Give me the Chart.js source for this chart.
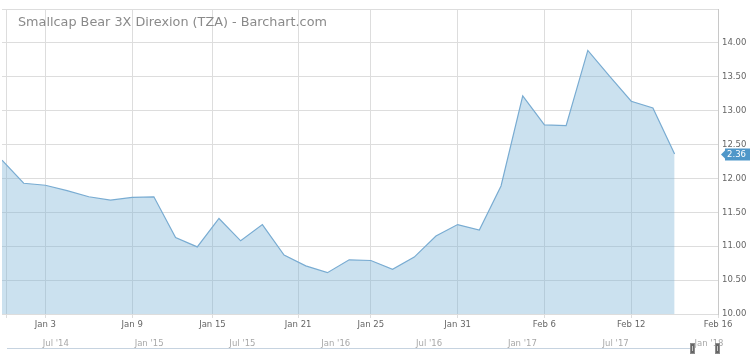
<!DOCTYPE html>
<html><head><meta charset="utf-8">
<script src="https://cdn.jsdelivr.net/npm/chart.js@4.4.1/dist/chart.umd.min.js"></script>
<style>html,body{margin:0;padding:0;background:#fff;overflow:hidden}</style>
</head><body>
<canvas id="c" width="750" height="359"></canvas>
<script>
const TITLE = 'Smallcap Bear 3X Direxion (TZA) - Barchart.com';
const dates = ['Dec 29','Jan 2','Jan 3','Jan 4','Jan 5','Jan 8','Jan 9','Jan 10','Jan 11','Jan 12','Jan 16','Jan 17','Jan 18','Jan 19','Jan 22','Jan 23','Jan 24','Jan 25','Jan 26','Jan 29','Jan 30','Jan 31','Feb 1','Feb 2','Feb 5','Feb 6','Feb 7','Feb 8','Feb 9','Feb 12','Feb 13','Feb 14'];
const closes = [12.27,11.93,11.90,11.82,11.73,11.68,11.72,11.73,11.13,10.99,11.41,11.08,11.32,10.87,10.71,10.61,10.80,10.79,10.66,10.84,11.15,11.32,11.24,11.89,13.22,12.79,12.78,13.89,13.51,13.14,13.04,12.36];
const xTickLabels = ['', 'Jan 3','Jan 9','Jan 15','Jan 21','Jan 25','Jan 31','Feb 6','Feb 12','Feb 16'];
const xTickIndex = [0.2, 2, 6, 9.7, 13.65, 17, 21, 25, 29, 33];
const yTickValues = [10, 10.5, 11, 11.5, 12, 12.5, 13, 13.5, 14, 14.5];
const yTickLabels = ['10.00','10.50','11.00','11.50','12.00','12.50','13.00','13.50','14.00',''];
const navLabels = ["Jul '14","Jan '15","Jul '15","Jan '16","Jul '16","Jan '17","Jul '17","Jan '18"];
const navMonths = [6, 12, 18, 24, 30, 36, 42, 48];
const lastPrice = 12.36;
const lastPriceLabel = '12.36';

const FONT = 'DejaVu Sans';
Chart.defaults.font.family = FONT;

const points = closes.map((v, i) => ({x: i, y: v}));

const decor = {
  id: 'decor',
  afterDraw(chart) {
    const ctx = chart.ctx;
    const ca = chart.chartArea;
    ctx.save();
    ctx.font = '12.8px "' + FONT + '"';
    ctx.fillStyle = '#8a8a8a';
    ctx.textAlign = 'left';
    ctx.textBaseline = 'alphabetic';
    ctx.fillText(TITLE, 18, 26);

    const y = Math.round(chart.scales.y.getPixelForValue(lastPrice)) + 0.5;
    ctx.fillStyle = '#4f97c9';
    ctx.beginPath();
    ctx.moveTo(ca.right + 3, y);
    ctx.lineTo(ca.right + 7, y - 4);
    ctx.lineTo(ca.right + 7, y + 4);
    ctx.closePath();
    ctx.fill();
    ctx.beginPath();
    ctx.rect(ca.right + 7, y - 6, 40, 12);
    ctx.fill();
    ctx.save();
    ctx.beginPath();
    ctx.rect(ca.right + 9, y - 7, 40, 14);
    ctx.clip();
    ctx.font = '8.5px "' + FONT + '"';
    ctx.fillStyle = '#ffffff';
    ctx.textAlign = 'right';
    ctx.textBaseline = 'middle';
    ctx.fillText(lastPriceLabel, 746, y + 0.5);
    ctx.restore();

    ctx.strokeStyle = '#c6d3e0';
    ctx.lineWidth = 1;
    ctx.beginPath();
    ctx.moveTo(7, 348.5);
    ctx.lineTo(690, 348.5);
    ctx.stroke();
    [690, 715].forEach(hx => {
      ctx.fillStyle = '#666666';
      ctx.fillRect(hx, 343, 5, 11);
      ctx.strokeStyle = '#8c8c8c';
      ctx.strokeRect(hx + 0.5, 343.5, 4, 10);
      ctx.strokeStyle = '#c8c8c8';
      ctx.beginPath();
      ctx.moveTo(hx + 2.5, 346);
      ctx.lineTo(hx + 2.5, 351);
      ctx.stroke();
    });
    ctx.restore();
  }
};

new Chart(document.getElementById('c'), {
  type: 'line',
  data: {
    datasets: [{
      label: 'TZA',
      data: points,
      borderColor: '#79acd2',
      borderWidth: 1.2,
      backgroundColor: 'rgba(124,181,216,0.4)',
      fill: 'start',
      pointRadius: 0,
      tension: 0
    }]
  },
  options: {
    responsive: false,
    animation: false,
    devicePixelRatio: 1,
    layout: { padding: { left: 2, top: 6, right: 0, bottom: 0 } },
    plugins: { legend: { display: false }, tooltip: { enabled: false }, title: { display: false } },
    scales: {
      x: {
        type: 'linear',
        position: 'bottom',
        min: 0,
        max: 33,
        afterBuildTicks: s => { s.ticks = xTickIndex.map(v => ({value: v})); },
        afterFit: s => { s.height = 17; },
        grid: { color: '#dddddd', lineWidth: 1, tickLength: 4, drawTicks: true },
        border: { display: false },
        ticks: {
          autoSkip: false, maxRotation: 0, padding: 2,
          font: { size: 8.5 }, color: '#666666',
          callback: (v, i) => xTickLabels[i]
        }
      },
      x2: {
        type: 'linear',
        position: 'bottom',
        min: 2.54,
        max: 48.58,
        afterBuildTicks: s => { s.ticks = navMonths.map(v => ({value: v})); },
        afterFit: s => { s.height = 28; },
        grid: { display: false, drawTicks: false },
        border: { display: false },
        ticks: {
          autoSkip: false, maxRotation: 0, padding: 8,
          font: { size: 8.5 }, color: '#a8a8a8',
          callback: (v, i) => navLabels[i]
        }
      },
      y: {
        type: 'linear',
        position: 'right',
        min: 10,
        max: 14.5,
        afterBuildTicks: s => { s.ticks = yTickValues.map(v => ({value: v})); },
        afterFit: s => { s.width = 32; },
        grid: { color: '#dddddd', lineWidth: 1, drawTicks: false },
        border: { display: true, color: '#c8c8c8' },
        ticks: {
          padding: 4,
          font: { size: 8.5 }, color: '#666666',
          callback: (v, i) => yTickLabels[i]
        }
      }
    }
  },
  plugins: [decor]
});
</script>
</body></html>
